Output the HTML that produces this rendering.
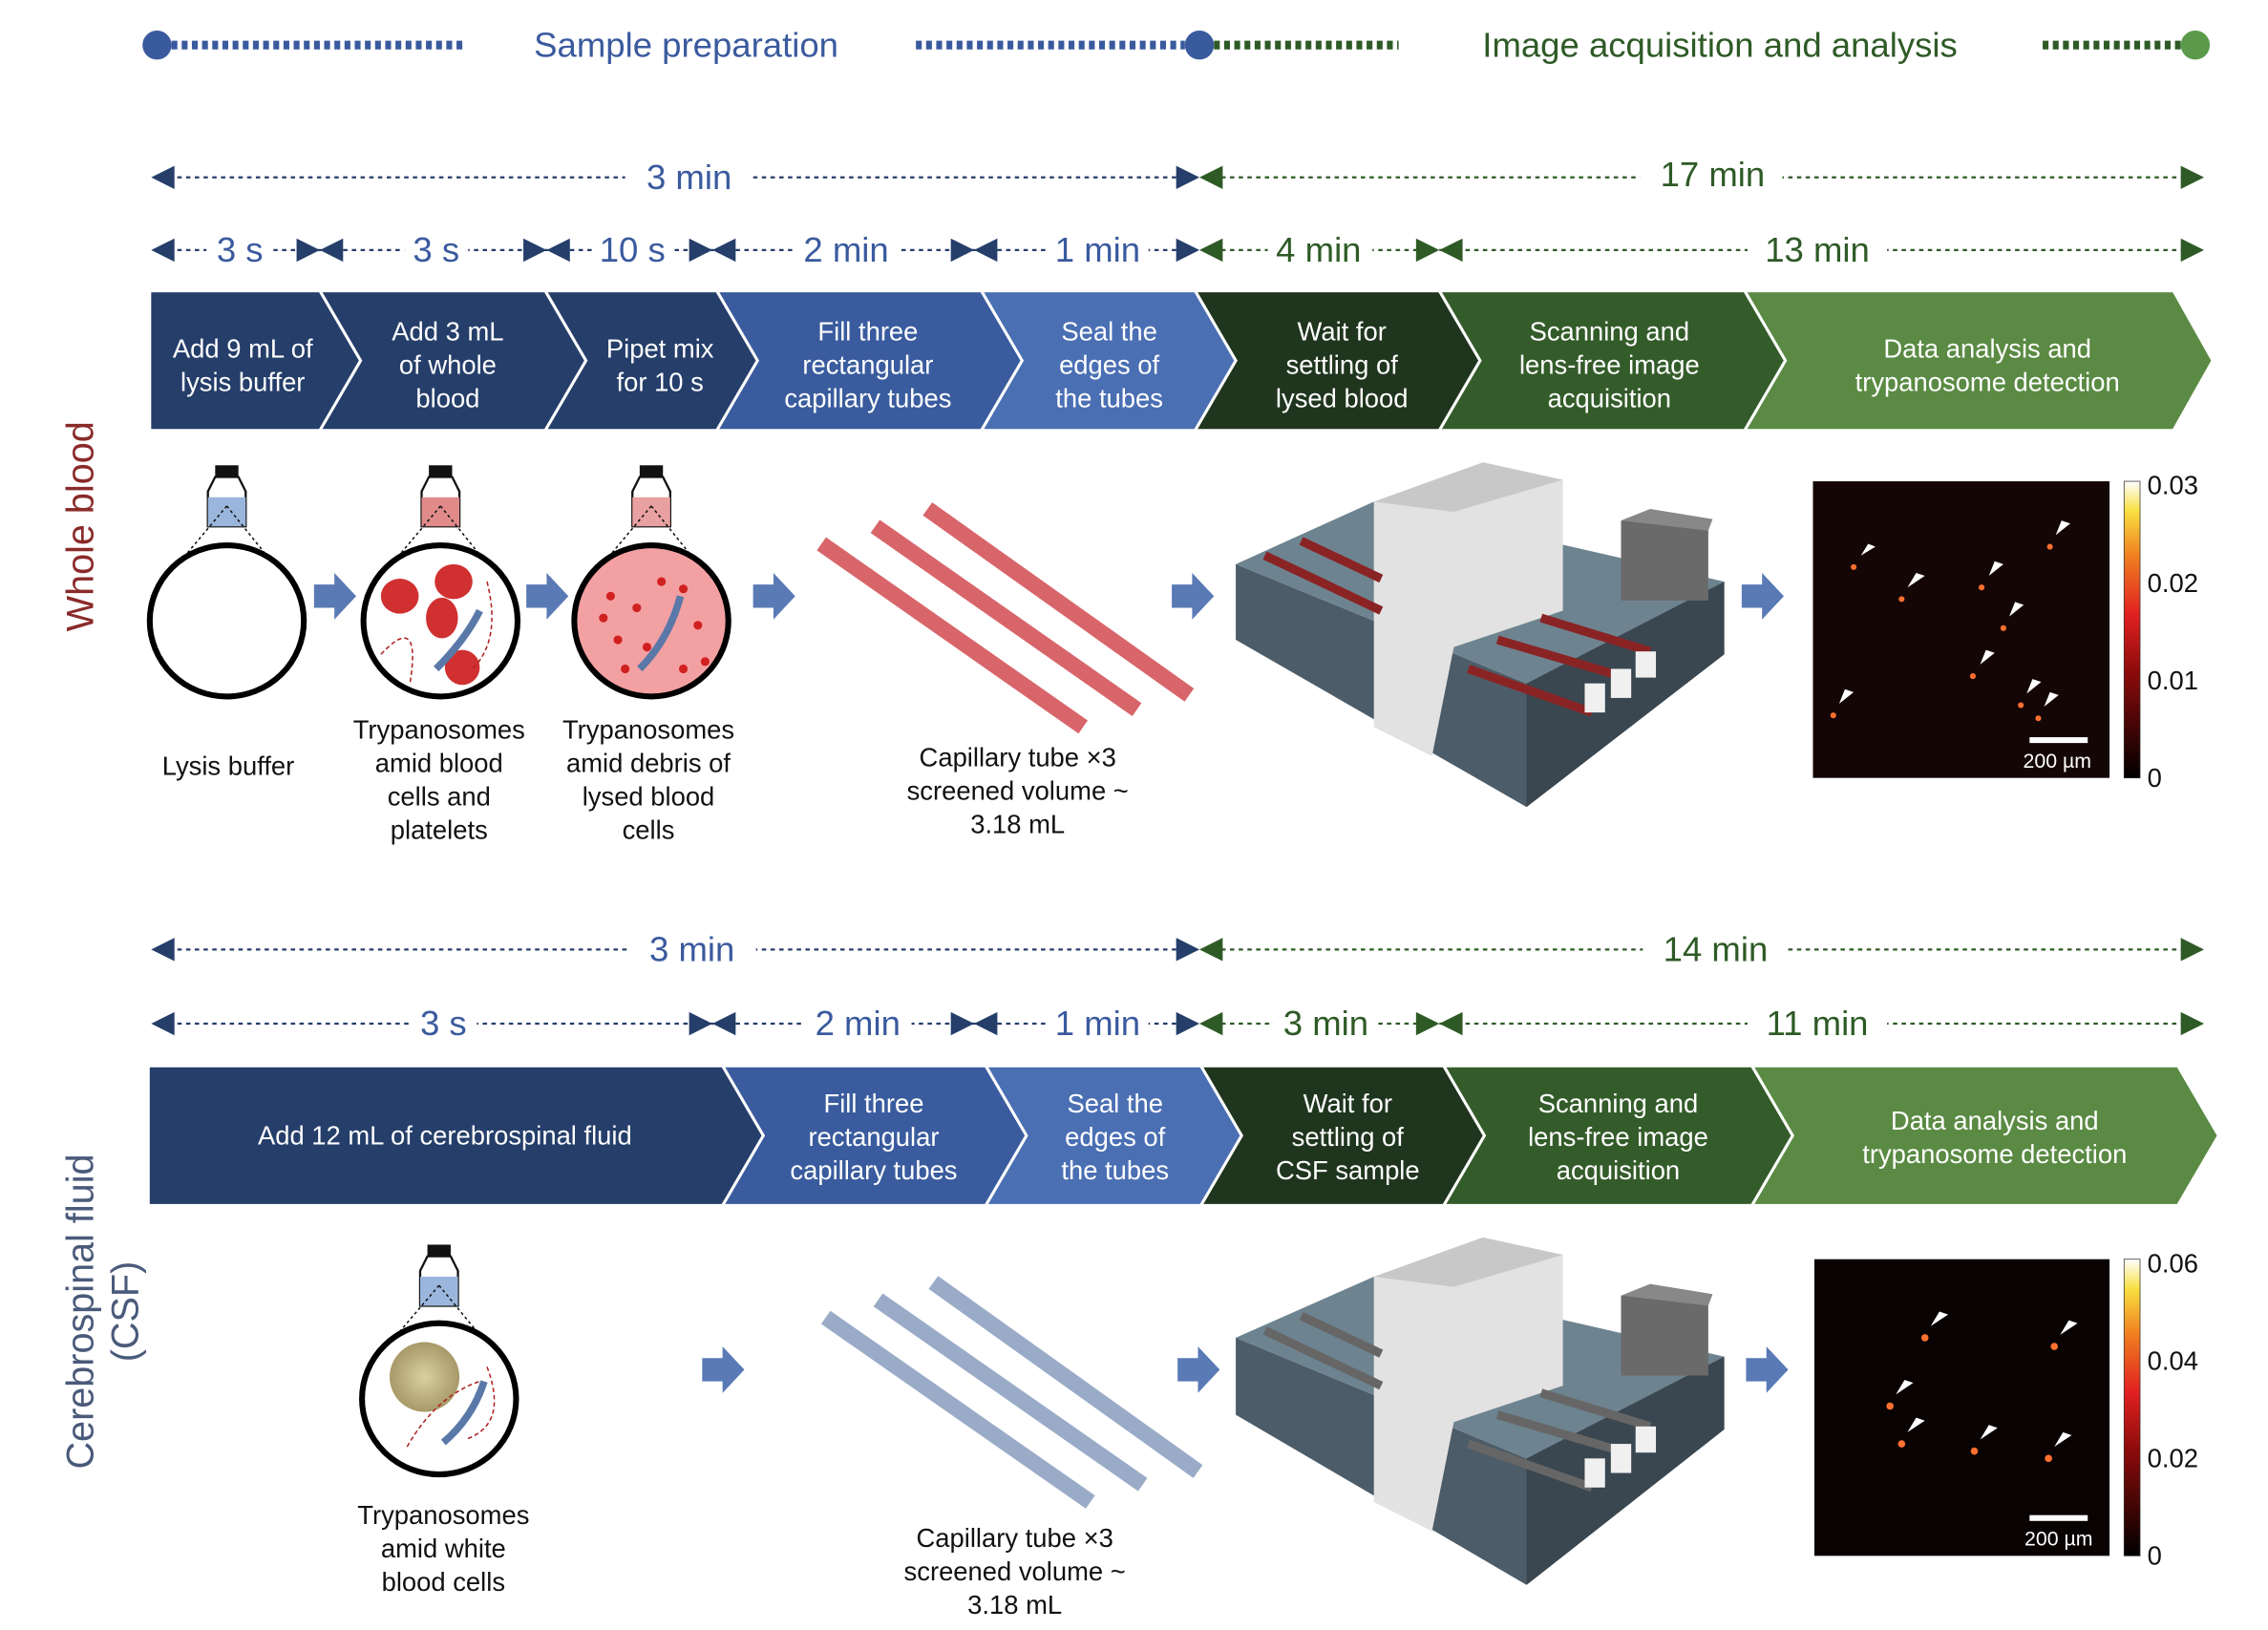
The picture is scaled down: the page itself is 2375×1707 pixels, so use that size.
<!DOCTYPE html>
<html><head><meta charset="utf-8"><style>
html,body{margin:0;padding:0;background:#fff;}
svg{display:block;}
text{font-family:"Liberation Sans",sans-serif;}
</style></head><body>
<svg width="2375" height="1707" viewBox="0 0 1560 1121" preserveAspectRatio="none" xmlns="http://www.w3.org/2000/svg">
<defs>
<linearGradient id="cb" x1="0" y1="1" x2="0" y2="0">
<stop offset="0" stop-color="#000"/><stop offset="0.35" stop-color="#8a0a0a"/><stop offset="0.55" stop-color="#e02020"/><stop offset="0.75" stop-color="#f08020"/><stop offset="0.9" stop-color="#f8e040"/><stop offset="1" stop-color="#fff"/>
</linearGradient>
<radialGradient id="wbc"><stop offset="0" stop-color="#d8cfa0"/><stop offset="1" stop-color="#a89a68"/></radialGradient>
</defs>

<circle cx="108" cy="31" r="10" fill="#3a5a9e"/>
<line x1="118" y1="31" x2="320" y2="31" stroke="#3a5a9e" stroke-width="6" stroke-dasharray="4 3"/>
<text x="472" y="39" font-size="24" fill="#3a5a9e" text-anchor="middle">Sample preparation</text>
<line x1="630" y1="31" x2="815" y2="31" stroke="#3a5a9e" stroke-width="6" stroke-dasharray="4 3"/>
<line x1="835" y1="31" x2="962" y2="31" stroke="#2e5a26" stroke-width="6" stroke-dasharray="4 3"/>
<circle cx="825" cy="31" r="10" fill="#3a5a9e"/>
<text x="1183" y="39" font-size="24" fill="#2e5a26" text-anchor="middle">Image acquisition and analysis</text>
<line x1="1405" y1="31" x2="1500" y2="31" stroke="#2e5a26" stroke-width="6" stroke-dasharray="4 3"/>
<circle cx="1510" cy="31" r="10" fill="#5a9a4a"/>

<g stroke-width="1.5" stroke-dasharray="3 3">
<line x1="110" y1="122" x2="822" y2="122" stroke="#253e6a"/>
<line x1="828" y1="122" x2="1512" y2="122" stroke="#2e5a26"/>
<line x1="110" y1="172" x2="822" y2="172" stroke="#253e6a"/>
<line x1="828" y1="172" x2="1512" y2="172" stroke="#2e5a26"/>
<line x1="110" y1="653" x2="822" y2="653" stroke="#253e6a"/>
<line x1="828" y1="653" x2="1512" y2="653" stroke="#2e5a26"/>
<line x1="110" y1="704" x2="822" y2="704" stroke="#253e6a"/>
<line x1="828" y1="704" x2="1512" y2="704" stroke="#2e5a26"/>
</g>
<g fill="#fff">
<rect x="430" y="108" width="88" height="28"/><rect x="1128" y="108" width="98" height="28"/>
<rect x="142" y="158" width="46" height="28"/><rect x="278" y="158" width="44" height="28"/><rect x="408" y="158" width="56" height="28"/><rect x="545" y="158" width="74" height="28"/><rect x="720" y="158" width="70" height="28"/><rect x="872" y="158" width="72" height="28"/><rect x="1202" y="158" width="96" height="28"/>
<rect x="432" y="639" width="88" height="28"/><rect x="1130" y="639" width="98" height="28"/>
<rect x="282" y="690" width="46" height="28"/><rect x="553" y="690" width="74" height="28"/><rect x="720" y="690" width="70" height="28"/><rect x="876" y="690" width="72" height="28"/><rect x="1202" y="690" width="96" height="28"/>
</g>
<g font-size="24" text-anchor="middle" fill="#3a5a9e">
<text x="474" y="130">3 min</text>
<text x="165" y="180">3 s</text><text x="300" y="180">3 s</text><text x="435" y="180">10 s</text><text x="582" y="180">2 min</text><text x="755" y="180">1 min</text>
<text x="476" y="661">3 min</text>
<text x="305" y="712">3 s</text><text x="590" y="712">2 min</text><text x="755" y="712">1 min</text>
</g>
<g font-size="24" text-anchor="middle" fill="#2e5a26">
<text x="1178" y="128">17 min</text>
<text x="907" y="180">4 min</text><text x="1250" y="180">13 min</text>
<text x="1180" y="661">14 min</text>
<text x="912" y="712">3 min</text><text x="1250" y="712">11 min</text>
</g>
<g fill="#253e6a">
<polygon points="104,122 120,114 120,130"/><polygon points="825,122 809,114 809,130"/>
<polygon points="104,172 120,164 120,180"/>
<polygon points="220,172 204,164 204,180"/><polygon points="220,172 236,164 236,180"/>
<polygon points="376,172 360,164 360,180"/><polygon points="376,172 392,164 392,180"/>
<polygon points="490,172 474,164 474,180"/><polygon points="490,172 506,164 506,180"/>
<polygon points="670,172 654,164 654,180"/><polygon points="670,172 686,164 686,180"/>
<polygon points="825,172 809,164 809,180"/>
<polygon points="104,653 120,645 120,661"/><polygon points="825,653 809,645 809,661"/>
<polygon points="104,704 120,696 120,712"/>
<polygon points="490,704 474,696 474,712"/><polygon points="490,704 506,696 506,712"/>
<polygon points="670,704 654,696 654,712"/><polygon points="670,704 686,696 686,712"/>
<polygon points="825,704 809,696 809,712"/>
</g>
<g fill="#2e5a26">
<polygon points="825,122 841,114 841,130"/><polygon points="1516,122 1500,114 1500,130"/>
<polygon points="825,172 841,164 841,180"/>
<polygon points="990,172 974,164 974,180"/><polygon points="990,172 1006,164 1006,180"/>
<polygon points="1516,172 1500,164 1500,180"/>
<polygon points="825,653 841,645 841,661"/><polygon points="1516,653 1500,645 1500,661"/>
<polygon points="825,704 841,696 841,712"/>
<polygon points="990,704 974,696 974,712"/><polygon points="990,704 1006,696 1006,712"/>
<polygon points="1516,704 1500,696 1500,712"/>
</g>

<g stroke="#fff" stroke-width="2">
<polygon points="1200,200 1495,200 1522,248 1495,296 1200,296 1228,248" fill="#5a8a43"/>
<polygon points="990,200 1200,200 1228,248 1200,296 990,296 1018,248" fill="#345c2a"/>
<polygon points="822,200 990,200 1018,248 990,296 822,296 850,248" fill="#20351e"/>
<polygon points="675,200 822,200 850,248 822,296 675,296 703,248" fill="#4a6fb3"/>
<polygon points="493,200 675,200 703,248 675,296 493,296 521,248" fill="#3a5c9e"/>
<polygon points="375,200 493,200 521,248 493,296 375,296 403,248" fill="#253e6a"/>
<polygon points="220,200 375,200 403,248 375,296 220,296 248,248" fill="#253e6a"/>
<polygon points="103,200 220,200 248,248 220,296 103,296" fill="#253e6a"/>
</g>
<g font-size="18" fill="#fff" text-anchor="middle">
<text x="167" y="246">Add 9 mL of</text><text x="167" y="269">lysis buffer</text>
<text x="308" y="234">Add 3 mL</text><text x="308" y="257">of whole</text><text x="308" y="280">blood</text>
<text x="454" y="246">Pipet mix</text><text x="454" y="269">for 10 s</text>
<text x="597" y="234">Fill three</text><text x="597" y="257">rectangular</text><text x="597" y="280">capillary tubes</text>
<text x="763" y="234">Seal the</text><text x="763" y="257">edges of</text><text x="763" y="280">the tubes</text>
<text x="923" y="234">Wait for</text><text x="923" y="257">settling of</text><text x="923" y="280">lysed blood</text>
<text x="1107" y="234">Scanning and</text><text x="1107" y="257">lens-free image</text><text x="1107" y="280">acquisition</text>
<text x="1367" y="246">Data analysis and</text><text x="1367" y="269">trypanosome detection</text>
</g>

<g stroke="#fff" stroke-width="2">
<polygon points="1205,733 1498,733 1526,781 1498,829 1205,829 1233,781" fill="#5a8a43"/>
<polygon points="993,733 1205,733 1233,781 1205,829 993,829 1021,781" fill="#345c2a"/>
<polygon points="826,733 993,733 1021,781 993,829 826,829 854,781" fill="#20351e"/>
<polygon points="678,733 826,733 854,781 826,829 678,829 706,781" fill="#4a6fb3"/>
<polygon points="497,733 678,733 706,781 678,829 497,829 525,781" fill="#3a5c9e"/>
<polygon points="102,733 497,733 525,781 497,829 102,829" fill="#253e6a"/>
</g>
<g font-size="18" fill="#fff" text-anchor="middle">
<text x="306" y="787">Add 12 mL of cerebrospinal fluid</text>
<text x="601" y="765">Fill three</text><text x="601" y="788">rectangular</text><text x="601" y="811">capillary tubes</text>
<text x="767" y="765">Seal the</text><text x="767" y="788">edges of</text><text x="767" y="811">the tubes</text>
<text x="927" y="765">Wait for</text><text x="927" y="788">settling of</text><text x="927" y="811">CSF sample</text>
<text x="1113" y="765">Scanning and</text><text x="1113" y="788">lens-free image</text><text x="1113" y="811">acquisition</text>
<text x="1372" y="777">Data analysis and</text><text x="1372" y="800">trypanosome detection</text>
</g>

<text transform="translate(64,362) rotate(-90)" font-size="26" fill="#8a2a2a" text-anchor="middle">Whole blood</text>
<text transform="translate(64,902) rotate(-90)" font-size="26" fill="#4a5a7a" text-anchor="middle">Cerebrospinal fluid</text>
<text transform="translate(95,902) rotate(-90)" font-size="26" fill="#4a5a7a" text-anchor="middle">(CSF)</text>

<g>
<rect x="148" y="320" width="16" height="8" fill="#111"/>
<path d="M148,328 L143,338 L143,362 L169,362 L169,338 L164,328Z" fill="none" stroke="#111" stroke-width="1.5"/>
<rect x="143" y="342" width="26" height="20" fill="#9ab6dc"/>
<line x1="156" y1="348" x2="104" y2="410" stroke="#111" stroke-dasharray="2 2"/><line x1="156" y1="348" x2="206" y2="410" stroke="#111" stroke-dasharray="2 2"/>
<ellipse cx="156" cy="427" rx="53" ry="52" fill="#fff" stroke="#000" stroke-width="4"/>

<rect x="295" y="320" width="16" height="8" fill="#111"/>
<path d="M295,328 L290,338 L290,362 L316,362 L316,338 L311,328Z" fill="none" stroke="#111" stroke-width="1.5"/>
<rect x="290" y="342" width="26" height="20" fill="#e08a8a"/>
<line x1="303" y1="348" x2="251" y2="410" stroke="#111" stroke-dasharray="2 2"/><line x1="303" y1="348" x2="353" y2="410" stroke="#111" stroke-dasharray="2 2"/>
<ellipse cx="303" cy="427" rx="53" ry="52" fill="#fff" stroke="#000" stroke-width="4"/>
<ellipse cx="275" cy="410" rx="13" ry="12" fill="#d03030"/><ellipse cx="312" cy="400" rx="13" ry="12" fill="#d03030"/><ellipse cx="304" cy="425" rx="11" ry="14" fill="#d03030"/><ellipse cx="318" cy="459" rx="12" ry="12" fill="#d03030"/>
<path d="M262,450 Q290,420 282,470 M335,400 Q345,440 325,460" fill="none" stroke="#b02020" stroke-dasharray="3 2"/>
<path d="M300,460 Q320,440 330,420" fill="none" stroke="#5a78a8" stroke-width="5"/>

<rect x="440" y="320" width="16" height="8" fill="#111"/>
<path d="M440,328 L435,338 L435,362 L461,362 L461,338 L456,328Z" fill="none" stroke="#111" stroke-width="1.5"/>
<rect x="435" y="342" width="26" height="20" fill="#e8a0a0"/>
<line x1="448" y1="348" x2="396" y2="410" stroke="#111" stroke-dasharray="2 2"/><line x1="448" y1="348" x2="498" y2="410" stroke="#111" stroke-dasharray="2 2"/>
<ellipse cx="448" cy="427" rx="53" ry="52" fill="#f3a0a3" stroke="#000" stroke-width="4"/>
<g fill="#d02020"><circle cx="420" cy="410" r="3"/><circle cx="438" cy="418" r="3"/><circle cx="470" cy="405" r="3"/><circle cx="425" cy="440" r="3"/><circle cx="480" cy="430" r="3"/><circle cx="455" cy="400" r="3"/><circle cx="430" cy="460" r="3"/><circle cx="470" cy="460" r="3"/><circle cx="485" cy="455" r="3"/><circle cx="415" cy="425" r="3"/><circle cx="445" cy="445" r="3"/></g>
<path d="M440,460 Q460,440 468,410" fill="none" stroke="#5a78a8" stroke-width="5"/>
</g>
<g font-size="18" fill="#111" text-anchor="middle">
<text x="157" y="533">Lysis buffer</text>
<text x="302" y="508">Trypanosomes</text><text x="302" y="531">amid blood</text><text x="302" y="554">cells and</text><text x="302" y="577">platelets</text>
<text x="446" y="508">Trypanosomes</text><text x="446" y="531">amid debris of</text><text x="446" y="554">lysed blood</text><text x="446" y="577">cells</text>
<text x="700" y="527">Capillary tube ×3</text><text x="700" y="550">screened volume ~</text><text x="700" y="573">3.18 mL</text>
<text x="305" y="1048">Trypanosomes</text><text x="305" y="1071">amid white</text><text x="305" y="1094">blood cells</text>
<text x="698" y="1064">Capillary tube ×3</text><text x="698" y="1087">screened volume ~</text><text x="698" y="1110">3.18 mL</text>
</g>

<g stroke-width="11" stroke-linecap="butt">
<line x1="565" y1="374" x2="745" y2="500" stroke="#d8656a"/>
<line x1="602" y1="362" x2="782" y2="488" stroke="#d8656a"/>
<line x1="638" y1="350" x2="818" y2="478" stroke="#d8656a"/>
<line x1="568" y1="906" x2="750" y2="1033" stroke="#9aabc8"/>
<line x1="604" y1="894" x2="786" y2="1021" stroke="#9aabc8"/>
<line x1="642" y1="882" x2="824" y2="1012" stroke="#9aabc8"/>
</g>

<rect x="294" y="856" width="16" height="8" fill="#111"/>
<path d="M294,864 L289,874 L289,898 L315,898 L315,874 L310,864Z" fill="none" stroke="#111" stroke-width="1.5"/>
<rect x="289" y="878" width="26" height="20" fill="#9ab6dc"/>
<line x1="302" y1="884" x2="250" y2="945" stroke="#111" stroke-dasharray="2 2"/><line x1="302" y1="884" x2="352" y2="945" stroke="#111" stroke-dasharray="2 2"/>
<ellipse cx="302" cy="962" rx="53" ry="52" fill="#fff" stroke="#000" stroke-width="4"/>
<circle cx="292" cy="947" r="24" fill="url(#wbc)"/>
<path d="M280,995 Q300,960 330,950 M335,940 Q350,980 320,990" fill="none" stroke="#b02020" stroke-dasharray="3 2"/>
<path d="M305,992 Q325,975 333,950" fill="none" stroke="#5a78a8" stroke-width="5"/>

<g fill="#5a7ab5">
<polygon points="216,402 230,402 230,394 245,410 230,426 230,418 216,418"/>
<polygon points="362,402 376,402 376,394 391,410 376,426 376,418 362,418"/>
<polygon points="518,402 532,402 532,394 547,410 532,426 532,418 518,418"/>
<polygon points="806,402 820,402 820,394 835,410 820,426 820,418 806,418"/>
<polygon points="1198,402 1212,402 1212,394 1227,410 1212,426 1212,418 1198,418"/>
<polygon points="483,934 497,934 497,926 512,942 497,958 497,950 483,950"/>
<polygon points="810,934 824,934 824,926 839,942 824,958 824,950 810,950"/>
<polygon points="1201,934 1215,934 1215,926 1230,942 1215,958 1215,950 1201,950"/>
</g>

<g>
<polygon points="850,388 1050,470 1186,400 1186,450 1050,555 850,440" fill="#4c5c68"/>
<polygon points="850,388 945,345 1186,400 1050,470" fill="#6e8390"/>
<polygon points="1050,470 1186,400 1186,450 1050,555" fill="#3a4750"/>
<rect x="1115" y="358" width="60" height="55" fill="#6a6a6a"/>
<polygon points="1115,358 1135,350 1178,357 1175,365" fill="#888"/>
<polygon points="945,345 1020,318 1075,330 1075,420 1000,445 985,520 945,500" fill="#e2e2e2"/>
<polygon points="945,345 1020,318 1075,330 1000,352" fill="#c8c8c8"/>
<g stroke="#8a2424" stroke-width="6"><line x1="870" y1="382" x2="950" y2="420"/><line x1="895" y1="372" x2="950" y2="398"/><line x1="1030" y1="440" x2="1115" y2="465"/><line x1="1010" y1="460" x2="1095" y2="490"/><line x1="1060" y1="425" x2="1135" y2="448"/></g>
<g fill="#f0f0f0"><rect x="1090" y="470" width="14" height="20"/><rect x="1108" y="460" width="14" height="20"/><rect x="1125" y="448" width="14" height="18"/></g>
</g>
<g>
<polygon points="850,920 1050,1003 1186,933 1186,983 1050,1090 850,973" fill="#4c5c68"/>
<polygon points="850,920 945,878 1186,933 1050,1003" fill="#6e8390"/>
<polygon points="1050,1003 1186,933 1186,983 1050,1090" fill="#3a4750"/>
<rect x="1115" y="891" width="60" height="55" fill="#6a6a6a"/>
<polygon points="1115,891 1135,883 1178,890 1175,898" fill="#888"/>
<polygon points="945,878 1020,851 1075,863 1075,953 1000,978 985,1053 945,1033" fill="#e2e2e2"/>
<polygon points="945,878 1020,851 1075,863 1000,885" fill="#c8c8c8"/>
<g stroke="#666" stroke-width="6"><line x1="870" y1="915" x2="950" y2="953"/><line x1="895" y1="905" x2="950" y2="931"/><line x1="1030" y1="973" x2="1115" y2="998"/><line x1="1010" y1="993" x2="1095" y2="1023"/><line x1="1060" y1="958" x2="1135" y2="981"/></g>
<g fill="#f0f0f0"><rect x="1090" y="1003" width="14" height="20"/><rect x="1108" y="993" width="14" height="20"/><rect x="1125" y="981" width="14" height="18"/></g>
</g>

<rect x="1247" y="331" width="204" height="204" fill="#150606"/>
<g fill="#ff7030"><circle cx="1275" cy="390" r="2"/><circle cx="1308" cy="412" r="2"/><circle cx="1363" cy="404" r="2"/><circle cx="1410" cy="376" r="2"/><circle cx="1378" cy="432" r="2"/><circle cx="1357" cy="465" r="2"/><circle cx="1390" cy="485" r="2"/><circle cx="1261" cy="492" r="2"/><circle cx="1402" cy="494" r="2"/></g>
<g fill="#fff"><polygon points="1280,382 1290,376 1285,374"/><polygon points="1312,404 1324,396 1318,394"/><polygon points="1368,396 1378,388 1372,386"/><polygon points="1414,368 1424,360 1418,358"/><polygon points="1382,424 1392,416 1386,414"/><polygon points="1362,457 1372,449 1366,447"/><polygon points="1394,477 1404,469 1398,467"/><polygon points="1265,484 1275,476 1269,474"/><polygon points="1406,486 1416,478 1410,476"/></g>
<rect x="1396" y="507" width="40" height="4" fill="#fff"/>
<text x="1415" y="528" font-size="14" fill="#fff" text-anchor="middle">200 µm</text>
<rect x="1461" y="331" width="11" height="204" fill="url(#cb)" stroke="#333" stroke-width="0.5"/>
<g font-size="18" fill="#111"><text x="1477" y="340">0.03</text><text x="1477" y="407">0.02</text><text x="1477" y="474">0.01</text><text x="1477" y="541">0</text></g>

<rect x="1248" y="866" width="203" height="204" fill="#080202"/>
<g fill="#ff7030"><circle cx="1324" cy="920" r="2.5"/><circle cx="1413" cy="926" r="2.5"/><circle cx="1300" cy="967" r="2.5"/><circle cx="1308" cy="993" r="2.5"/><circle cx="1358" cy="998" r="2.5"/><circle cx="1409" cy="1003" r="2.5"/></g>
<g fill="#fff"><polygon points="1328,912 1340,904 1334,902"/><polygon points="1417,918 1429,910 1423,908"/><polygon points="1304,959 1316,951 1310,949"/><polygon points="1312,985 1324,977 1318,975"/><polygon points="1362,990 1374,982 1368,980"/><polygon points="1413,995 1425,987 1419,985"/></g>
<rect x="1396" y="1042" width="40" height="4" fill="#fff"/>
<text x="1416" y="1063" font-size="14" fill="#fff" text-anchor="middle">200 µm</text>
<rect x="1461" y="866" width="11" height="204" fill="url(#cb)" stroke="#333" stroke-width="0.5"/>
<g font-size="18" fill="#111"><text x="1477" y="875">0.06</text><text x="1477" y="942">0.04</text><text x="1477" y="1009">0.02</text><text x="1477" y="1076">0</text></g>
</svg>
</body></html>
